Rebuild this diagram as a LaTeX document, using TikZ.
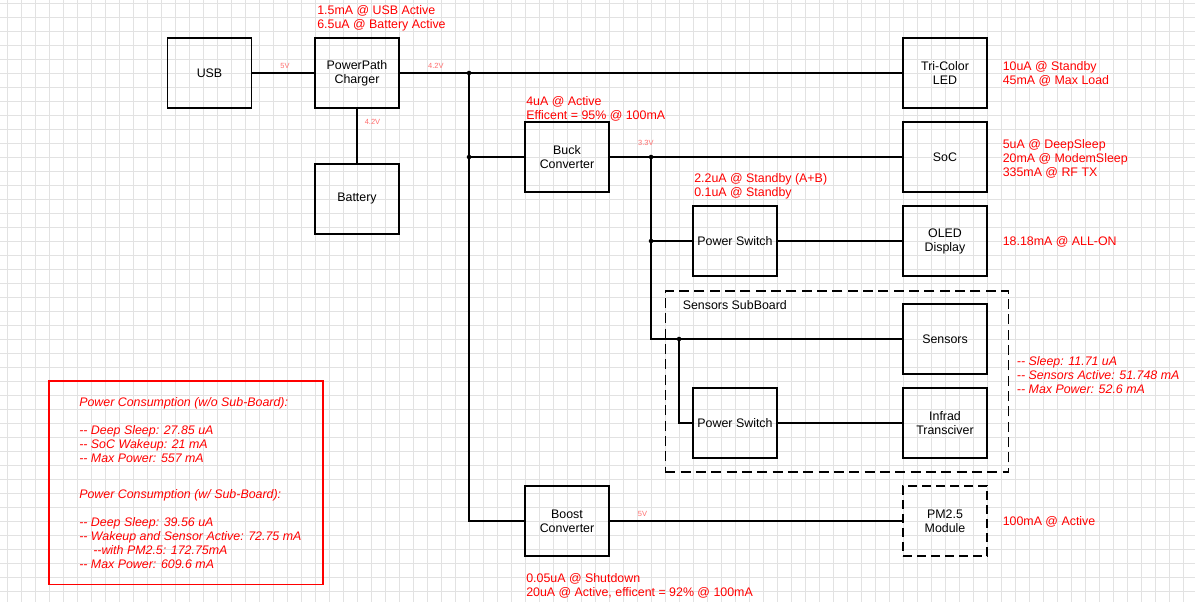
\documentclass[tikz,border=0pt]{standalone}
\usepackage{fontspec}
\setmainfont{Liberation Sans}
\definecolor{gridc}{RGB}{226,226,226}
\definecolor{vlab}{RGB}{255,110,110}
\begin{document}
\begin{tikzpicture}[x=0.75pt,y=-0.75pt,
  gridln/.style={draw=gridc,line width=0.9pt},
  box/.style={draw,line width=1.1pt,minimum width=63pt,minimum height=52.5pt,inner sep=0pt,align=center,font=\fontsize{9.3}{10.5}\selectfont},
  dbox/.style={box,dash pattern=on 6.5pt off 4pt},
  wire/.style={draw,line width=1.1pt},
  note/.style={text=red,anchor=base west,inner sep=0pt,align=left,font=\fontsize{9.3}{10.5}\selectfont},
  inote/.style={note,font=\fontsize{9.3}{10.5}\selectfont\itshape},
  volt/.style={text=vlab,inner sep=0pt,font=\fontsize{5.6}{6}\selectfont},
  dot/.style={fill,circle,inner sep=0pt,minimum size=3.4pt}]
\useasboundingbox (0,0) rectangle (1195,602);
\fill[white] (0,0) rectangle (1195,602);
\foreach \i in {0,...,85} {\draw[gridln] ({7.8+14*\i},0) -- ({7.8+14*\i},602);}
\foreach \j in {0,...,42} {\draw[gridln] (0,{3.5+14*\j}) -- (1195,{3.5+14*\j});}

% boxes
\node[box] (usb) at (209.5,73) {USB};
\node[box] (pp) at (357,73) {PowerPath\\Charger};
\node[box] (bat) at (357,199) {Battery};
\node[box] (led) at (945,73) {Tri-Color\\LED};
\node[box] (buck) at (567,157) {Buck\\Converter};
\node[box] (soc) at (945,157) {SoC};
\node[box] (ps1) at (735,241) {Power Switch};
\node[box] (oled) at (945,241) {OLED\\Display};
\node[box] (sens) at (945,339) {Sensors};
\node[box] (ps2) at (735,423) {Power Switch};
\node[box] (ir) at (945,423) {Infrad\\Transciver};
\node[box] (boost) at (567,521) {Boost\\Converter};
\node[dbox] (pm) at (945,521) {PM2.5\\Module};

% sub board frame
\node[draw,line width=1.1pt,dash pattern=on 7.5pt off 4pt,inner sep=0pt,minimum width=257.25pt,minimum height=135.75pt] (sub) at (836.75,381.5) {};
\node[anchor=base west,inner sep=0pt,font=\fontsize{9.3}{10.5}\selectfont] (subl) at (682.5,309) {Sensors SubBoard};

% junctions
\coordinate (j1) at (469,73);
\coordinate (j2) at (469,157);
\coordinate (j3) at (651,157);
\coordinate (j4) at (651,241);
\coordinate (j5) at (679,339);

% wires
\draw[wire] (usb.east) -- (pp.west);
\draw[wire] (pp.east) -- (led.west);
\draw[wire] (pp.south) -- (bat.north);
\draw[wire] (j1) |- (boost.west);
\draw[wire] (j2) -- (buck.west);
\draw[wire] (buck.east) -- (soc.west);
\draw[wire] (j3) |- (sens.west);
\draw[wire] (j4) -- (ps1.west);
\draw[wire] (ps1.east) -- (oled.west);
\draw[wire] (j5) |- (ps2.west);
\draw[wire] (ps2.east) -- (ir.west);
\draw[wire] (boost.east) -- (pm.west);
\foreach \p in {j1,j2,j3,j4,j5} {\node[dot] at (\p) {};}

% voltage labels
\node[volt] (v1) at (285,66.2) {5V};
\node[volt] (v2) at (435.8,66.2) {4.2V};
\node[volt] (v3) at (372.5,122.2) {4.2V};
\node[volt] (v4) at (645.8,143) {3.3V};
\node[volt] (v5) at (642.5,514) {5V};

% notes (anchored at the baseline of their last line)
\node[note] (n1) at (317,28.8) {1.5mA @ USB Active\\6.5uA @ Battery Active};
\node[note] (n2) at (526,120) {4uA @ Active\\Efficent = 95\% @ 100mA};
\node[note] (n3) at (694,197) {2.2uA @ Standby (A+B)\\0.1uA @ Standby};
\node[note] (n4) at (1002.5,84.5) {10uA @ Standby\\45mA @ Max Load};
\node[note] (n5) at (1002.5,176.3) {5uA @ DeepSleep\\20mA @ ModemSleep\\335mA @ RF TX};
\node[note] (n6) at (1002.5,245.5) {18.18mA @ ALL-ON};
\node[inote] (n7) at (1016.7,393) {-{}- Sleep: 11.71 uA\\-{}- Sensors Active: 51.748 mA\\-{}- Max Power: 52.6 mA};
\node[note] (n8) at (1002.5,525.5) {100mA @ Active};
\node[note] (n9) at (526,596.5) {0.05uA @ Shutdown\\20uA @ Active, efficent = 92\% @ 100mA};

% summary box
\node[draw=red,line width=1.1pt,inner sep=0pt,minimum width=205.5pt,minimum height=152.5pt] (sum) at (186,482.7) {};
\node[inote] (s1) at (79,462.2) {Power Consumption (w/o Sub-Board):\\\mbox{}\\-{}- Deep Sleep: 27.85 uA\\-{}- SoC Wakeup: 21 mA\\-{}- Max Power: 557 mA};
\node[inote] (s2) at (79,568) {Power Consumption (w/ Sub-Board):\\\mbox{}\\-{}- Deep Sleep: 39.56 uA\\-{}- Wakeup and Sensor Active: 72.75 mA\\\hspace*{10.5pt}-{}-with PM2.5: 172.75mA\\-{}- Max Power: 609.6 mA};
\end{tikzpicture}
\end{document}
